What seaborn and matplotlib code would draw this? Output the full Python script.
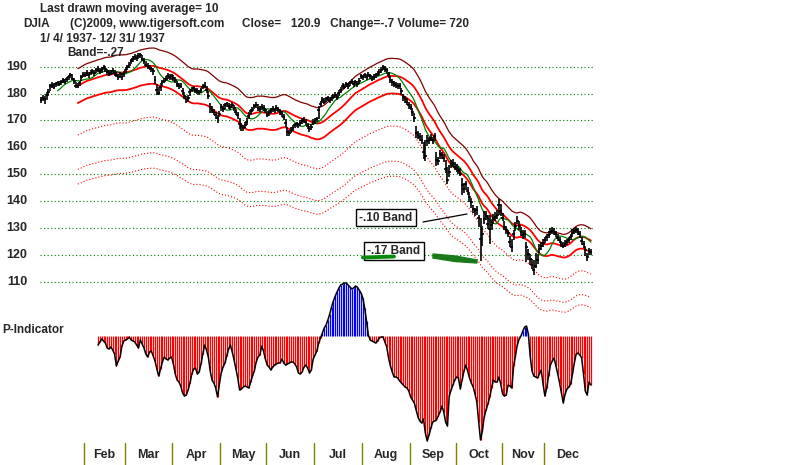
import numpy as np
import pandas as pd
import seaborn as sns
import matplotlib.pyplot as plt
from matplotlib.transforms import blended_transform_factory
from matplotlib.patches import Polygon

sns.set_style("white")
plt.rcParams['font.family'] = ['Liberation Sans', 'DejaVu Sans']

# --- data -------------------------------------------------------------
# 1937 trading days ran Monday-Saturday; these were exchange holidays
holidays = ['1937-02-12', '1937-02-22', '1937-03-26', '1937-05-31', '1937-07-05',
            '1937-09-06', '1937-10-12', '1937-11-02', '1937-11-11', '1937-11-25',
            '1937-12-25']

# DJIA daily close / high / low, Jan ... Dec
closes = [
    177.5, 178.5, 177.8, 179.5, 180.5, 182.8, 183.2, 182.6, 183.5, 184.0, 183.6, 184.3, 185.0, 184.2, 185.3, 186.2, 186.8, 185.6, 184.5, 182.8, 183.0, 183.8, 186.2, 187.0,
    187.0, 187.6, 186.8, 187.8, 188.2, 187.5, 188.6, 189.0, 188.3, 188.8, 189.6, 189.2, 188.0, 187.4, 187.8, 188.4, 187.6, 187.0, 186.2, 187.2, 186.0, 187.4,
    188.8, 190.0, 190.6, 192.0, 192.8, 193.6, 193.2, 194.0, 194.4, 193.0, 192.2, 190.8, 190.2, 189.6, 189.0, 188.4, 185.0, 181.5, 180.2, 182.6, 184.2, 184.8, 185.6, 186.6, 186.0, 186.4,
    185.8, 185.0, 183.4, 182.8, 183.0, 180.8, 179.0, 177.8, 178.2, 180.6, 181.4, 182.0, 181.2, 181.0, 180.4, 181.2, 182.6, 183.0, 181.5, 179.0, 175.0, 174.0, 173.2, 172.0, 170.8, 172.5,
    175.0, 174.2, 175.6, 176.0, 175.2, 175.0, 175.8, 174.6, 173.2, 172.0, 168.8, 167.6, 167.2, 168.4, 169.6, 171.8, 173.4, 174.0, 175.2, 175.8, 174.8, 174.2, 175.0, 174.6, 173.8,
    172.2, 172.8, 173.6, 174.2, 173.8, 174.6, 174.0, 173.2, 172.4, 171.2, 169.0, 165.8, 165.2, 166.6, 167.2, 168.2, 168.6, 168.2, 169.0, 169.8, 170.2, 169.4, 168.0, 166.8, 167.6, 169.6,
    169.8, 170.4, 174.0, 176.2, 177.6, 177.0, 177.8, 178.2, 177.6, 178.4, 178.8, 179.4, 178.6, 180.2, 181.4, 183.0, 182.6, 183.4, 182.8, 183.8, 184.4, 183.6, 184.2, 183.4, 184.6, 186.4,
    186.0, 186.8, 186.2, 187.0, 186.4, 185.6, 186.2, 186.8, 187.4, 188.0, 188.8, 190.0, 189.2, 188.6, 187.0, 185.2, 184.2, 183.6, 183.2, 182.8, 183.0, 180.8, 178.6, 177.8, 177.0, 175.6,
    175.0, 173.2, 170.8, 165.2, 164.6, 163.8, 162.8, 158.4, 156.8, 162.4, 162.8, 163.6, 162.6, 164.2, 155.4, 154.8, 157.4, 157.0, 156.2, 152.0, 148.0, 150.8, 153.8, 154.2, 152.8,
    152.4, 151.6, 150.2, 146.0, 144.6, 146.2, 143.8, 141.4, 139.6, 137.0, 136.2, 136.6, 133.6, 126.0, 127.8, 133.2, 134.6, 131.6, 129.6, 131.2, 133.4, 134.2, 135.0, 138.4, 136.2,
    133.8, 130.4, 129.2, 128.0, 124.8, 122.8, 127.6, 130.6, 132.4, 130.8, 128.6, 127.4, 127.8, 123.0, 120.2, 118.6, 116.2, 114.4, 116.0, 118.2, 122.0, 123.2, 124.4,
    125.6, 126.6, 127.4, 128.4, 129.0, 128.6, 127.8, 126.4, 125.6, 124.0, 123.4, 124.2, 124.8, 125.6, 126.6, 128.2, 128.8, 129.2, 128.6, 127.6, 125.2, 124.0, 121.8, 119.2, 121.6, 120.9,
]
highs = [
    178.6, 179.4, 179.2, 180.4, 181.6, 183.6, 184.2, 183.8, 184.4, 184.8, 184.6, 185.2, 185.8, 185.4, 186.0, 187.0, 187.8, 187.2, 185.8, 184.4, 184.0, 184.6, 186.8, 188.0,
    188.0, 188.6, 188.0, 188.8, 189.2, 188.6, 189.6, 190.2, 189.4, 189.8, 190.6, 190.4, 189.2, 188.6, 188.8, 189.4, 188.6, 188.2, 187.4, 188.2, 187.2, 188.4,
    189.8, 190.8, 191.6, 193.0, 193.8, 194.6, 194.4, 195.0, 195.2, 194.4, 193.4, 192.0, 191.2, 190.6, 190.0, 189.6, 186.4, 183.4, 182.4, 183.8, 185.2, 185.8, 186.6, 187.6, 187.2, 187.4,
    186.8, 186.0, 184.6, 183.8, 184.0, 182.0, 180.6, 179.0, 179.4, 181.6, 182.4, 183.0, 182.2, 182.0, 181.4, 182.2, 183.6, 184.2, 183.0, 181.0, 176.4, 175.2, 174.4, 173.2, 172.2, 173.6,
    176.2, 175.4, 176.6, 177.0, 176.4, 176.0, 176.8, 175.8, 174.4, 173.2, 171.0, 169.0, 168.4, 169.4, 170.8, 173.0, 174.4, 175.0, 176.2, 176.8, 176.0, 175.2, 176.0, 175.6, 174.8,
    173.4, 173.8, 174.6, 175.2, 174.8, 175.6, 175.0, 174.2, 173.4, 172.4, 170.4, 167.4, 166.4, 167.6, 168.2, 169.2, 169.6, 169.2, 170.0, 170.8, 171.2, 170.4, 169.2, 168.0, 168.6, 170.6,
    170.8, 171.4, 175.4, 177.2, 178.6, 178.2, 178.8, 179.2, 178.6, 179.4, 179.8, 180.4, 179.8, 181.2, 182.6, 184.0, 183.6, 184.4, 184.0, 184.8, 185.4, 184.8, 185.2, 184.6, 185.8, 187.4,
    187.0, 187.8, 187.2, 188.0, 187.4, 186.6, 187.2, 187.8, 188.4, 189.0, 189.8, 190.6, 190.4, 189.6, 188.2, 186.4, 185.4, 184.8, 184.2, 184.0, 184.0, 182.2, 179.8, 179.0, 178.2, 176.8,
    176.2, 174.6, 172.6, 168.0, 166.2, 165.2, 164.4, 162.0, 162.6, 164.4, 164.0, 164.8, 164.0, 165.4, 158.4, 156.4, 159.0, 158.4, 157.4, 155.4, 152.6, 153.6, 155.2, 155.6, 154.4,
    153.8, 153.0, 152.4, 148.6, 146.8, 147.6, 145.4, 143.2, 141.2, 138.6, 137.6, 138.0, 135.0, 133.6, 130.6, 136.2, 136.4, 134.8, 135.0, 133.2, 135.2, 135.8, 136.6, 140.6, 139.0,
    135.6, 132.4, 130.8, 129.4, 127.0, 126.0, 129.4, 132.2, 134.6, 132.4, 130.2, 129.2, 129.4, 124.8, 122.2, 120.4, 118.6, 118.0, 120.6, 120.2, 124.0, 124.8, 125.8,
    126.8, 127.8, 128.8, 129.8, 130.4, 129.8, 129.0, 127.8, 126.8, 125.2, 124.6, 125.4, 126.0, 126.8, 127.8, 129.6, 130.0, 130.2, 129.8, 128.8, 126.6, 125.2, 123.2, 120.6, 122.6, 122.0,
]
lows = [
    176.4, 177.2, 176.2, 177.6, 179.2, 181.0, 182.2, 181.8, 182.4, 183.0, 182.8, 183.2, 184.0, 183.4, 184.2, 185.0, 185.8, 185.0, 183.6, 182.0, 182.0, 182.8, 184.6, 186.0,
    186.0, 186.6, 185.8, 186.8, 187.2, 186.6, 187.6, 188.0, 187.4, 187.8, 188.6, 188.2, 187.0, 186.4, 186.8, 187.4, 186.6, 186.0, 185.2, 186.2, 185.0, 186.2,
    187.6, 188.8, 189.6, 191.0, 191.8, 192.4, 192.2, 193.0, 193.2, 192.0, 191.0, 189.8, 189.2, 188.6, 188.0, 187.0, 183.6, 179.6, 179.4, 181.0, 183.0, 183.8, 184.6, 185.4, 185.0, 185.2,
    184.8, 183.8, 182.4, 181.8, 182.0, 179.4, 177.8, 176.6, 177.0, 179.2, 180.4, 181.0, 180.2, 180.0, 179.4, 180.2, 181.6, 182.0, 180.2, 177.8, 172.8, 172.8, 172.0, 170.4, 169.2, 171.2,
    173.6, 173.2, 174.4, 175.0, 174.2, 174.0, 174.8, 173.4, 172.0, 170.4, 166.8, 166.2, 166.0, 167.2, 168.4, 170.4, 172.2, 173.0, 174.2, 174.8, 173.6, 173.0, 174.0, 173.4, 172.6,
    171.2, 171.8, 172.6, 173.2, 172.8, 173.6, 173.0, 172.2, 171.2, 170.0, 167.6, 164.2, 164.2, 165.4, 166.2, 167.2, 167.6, 167.2, 168.0, 168.8, 169.2, 168.2, 166.8, 165.8, 166.6, 168.4,
    168.8, 169.4, 170.6, 175.0, 176.4, 176.0, 176.8, 177.2, 176.6, 177.4, 177.8, 178.4, 177.6, 179.0, 180.2, 181.8, 181.6, 182.4, 181.8, 182.8, 183.4, 182.6, 183.2, 182.4, 183.6, 185.4,
    185.0, 185.8, 185.2, 186.0, 185.4, 184.6, 185.2, 185.8, 186.4, 187.0, 187.8, 188.8, 188.2, 187.4, 185.8, 184.0, 183.0, 182.4, 182.0, 181.6, 181.8, 179.4, 177.4, 176.6, 175.6, 174.2,
    173.8, 171.8, 169.4, 163.6, 163.0, 162.4, 161.2, 155.6, 155.0, 160.6, 161.4, 162.2, 161.2, 162.4, 153.2, 153.4, 155.6, 155.6, 154.6, 150.4, 146.4, 149.0, 152.2, 152.8, 151.4,
    151.0, 150.2, 149.4, 142.4, 143.0, 144.2, 142.2, 139.6, 137.6, 135.4, 134.6, 134.8, 130.4, 117.6, 123.4, 131.4, 132.8, 129.6, 124.2, 129.4, 131.6, 132.6, 133.4, 135.0, 134.6,
    132.4, 129.2, 127.8, 126.6, 122.8, 121.0, 125.6, 129.0, 131.4, 129.4, 127.0, 126.0, 126.2, 117.2, 118.2, 116.4, 114.6, 112.6, 115.0, 116.6, 120.8, 121.8, 123.0,
    124.4, 125.2, 126.2, 127.2, 127.8, 127.4, 126.6, 125.2, 124.4, 122.8, 122.4, 123.0, 123.6, 124.4, 125.4, 126.8, 127.6, 128.0, 127.4, 126.2, 123.6, 122.6, 119.6, 117.6, 120.0, 119.8,
]

# P-Indicator, one value per trading day from day 31 (mid-Feb) to the end
p_start = 31
p_indicator = [
    -9, -6, -3, -5, -7, -12, -13, -11, -14, -18,
    -30, -25, -21, -10, -5, -4, -3, -1, -4, -5,
    -6, -9, -12, -4, -8, -12, -18, -21, -16, -15,
    -20, -25, -33, -40, -33, -26, -21, -23, -24, -22,
    -21, -28, -38, -44, -46, -50, -57, -60, -59, -54,
    -47, -38, -33, -32, -38, -36, -28, -18, -9, -14,
    -21, -35, -44, -47, -52, -61, -48, -37, -31, -27,
    -20, -13, -9, -16, -24, -33, -42, -54, -53, -51,
    -50, -51, -52, -46, -40, -35, -26, -21, -19, -10,
    -15, -23, -29, -31, -34, -31, -29, -28, -27, -27,
    -23, -27, -29, -28, -27, -26, -26, -28, -31, -37,
    -38, -36, -31, -29, -32, -37, -34, -23, -19, -15,
    -7, -2, 3, 8, 11, 16, 22, 29, 35, 40,
    44, 48, 51, 52, 53, 53, 51, 49, 47, 48,
    50, 49, 46, 43, 38, 28, 15, 1, -4, -5,
    -6, -7, -5, -2, -1, -1, -6, -11, -22, -30,
    -36, -41, -41, -42, -45, -47, -49, -51, -52, -55,
    -61, -64, -67, -74, -81, -85, -87, -83, -97, -105,
    -99, -92, -86, -85, -84, -80, -76, -70, -76, -86,
    -90, -60, -54, -49, -44, -41, -42, -53, -44, -35,
    -29, -35, -42, -47, -51, -58, -66, -86, -104, -95,
    -81, -74, -68, -61, -52, -44, -46, -46, -41, -48,
    -58, -60, -59, -49, -50, -52, -30, -20, -9, -3,
    0, 5, 9, 10, 2, -20, -35, -40, -41, -42,
    -38, -34, -48, -60, -52, -40, -29, -25, -22, -30,
    -38, -47, -57, -67, -58, -53, -51, -48, -38, -27,
    -18, -17, -19, -22, -38, -55, -59, -46, -49,
]

# moving-average bands (multiples of the 21-day average)
band_mult = [1.035, 1.0, 0.965, 0.90, 0.83, 0.80]
band_color = ['#800000', '#ff0000', '#ff0000', '#ff0000', '#ff0000', '#ff0000']
grid_levels = [110, 120, 130, 140, 150, 160, 170, 180, 190]

# --- build the frame ----------------------------------------------------
days = pd.date_range('1937-01-04', '1937-12-31', freq='D')
days = days[(days.weekday != 6) & (~days.isin(pd.to_datetime(holidays)))]
df = pd.DataFrame({'date': days, 'close': closes, 'high': highs, 'low': lows})
df['day'] = np.arange(len(df))
df['ma10'] = df['close'].rolling(10).mean()
df['ma21'] = df['close'].rolling(21).mean()

pdf = pd.DataFrame({'day': np.arange(p_start, p_start + len(p_indicator)), 'p': p_indicator})

# --- figure: one canvas, price and indicator share the x scale -----------
W, H = 800, 465
fig = plt.figure(figsize=(8, 4.65), dpi=100)
ax = fig.add_axes([0, 0, 1, 1])
px_day = 1.839
ax.set_xlim(-41 / px_day, (W - 41) / px_day)
ax.set_ylim(190 - (H - 66.7) / 2.6875, 190 + 66.7 / 2.6875)
ax.set_axis_off()

ax2 = ax.twinx()
ax2.set_ylim(-(H - 336), 336)
ax2.set_axis_off()


def fx(x):
    return x / W


def fy(y):
    return 1 - y / H


# gridlines + price labels
ax.hlines(grid_levels, -0.5, 300.2, color='#008000', lw=0.8, linestyles=(0, (1, 2.2)))
ylab = blended_transform_factory(ax.transAxes, ax.transData)
for lv in grid_levels:
    ax.text(fx(27), lv, str(lv), transform=ylab, ha='right', va='center',
            fontsize=9, fontweight='bold')

# bands and averages
for m, c in zip(band_mult, band_color):
    dotted = m < 0.95
    sns.lineplot(x=df['day'], y=df['ma21'] * m, ax=ax, color=c,
                 lw=0.8 if dotted else (0.9 if c == '#800000' else 1.3),
                 linestyle=(0, (1, 1.8)) if dotted else '-')
sns.lineplot(data=df, x='day', y='ma10', ax=ax, color='#008000', lw=0.9)

# price bars
ax.vlines(df['day'], df['low'], df['high'], color='black', lw=1.2, zorder=4)
ax.hlines(df['close'], df['day'] - 0.8, df['day'] + 0.8, color='black', lw=1.2, zorder=4)

# P-Indicator
neg = pdf[pdf['p'] < 0]
pos = pdf[pdf['p'] >= 0]
ax2.vlines(neg['day'], 0, neg['p'], color='#ff0000', lw=0.9)
ax2.vlines(pos['day'], 0, pos['p'], color='#0000ff', lw=0.9)
sns.lineplot(data=pdf, x='day', y='p', ax=ax2, color='black', lw=1.1)

# month separators and names
bounds = list(df.index[df['date'].dt.month.diff() != 0][1:] - 0.5)
names = [d.strftime('%b') for d in df['date'][df['date'].dt.month.diff() != 0][1:]]
edges = bounds + [len(df) - 0.5]
for b in bounds:
    ax.axvline(b, ymin=0, ymax=22 / H, color='#808000', lw=1.0)
xlab = blended_transform_factory(ax.transData, ax.transAxes)
for i, nm in enumerate(names):
    ax.text((edges[i] + edges[i + 1]) / 2, fy(455), nm, transform=xlab,
            ha='center', va='center', fontsize=9, fontweight='bold')

# header text
hdr = dict(fontsize=8.5, fontweight='bold', va='center', ha='left')
fig.text(fx(40), fy(9), 'Last drawn moving average= 10', **hdr)
fig.text(fx(23), fy(24), 'DJIA', **hdr)
fig.text(fx(70), fy(24), '(C)2009, www.tigersoft.com', **hdr)
fig.text(fx(242), fy(24), 'Close=   120.9   Change=-.7 Volume= 720', **hdr)
fig.text(fx(40), fy(39), '1/ 4/ 1937- 12/ 31/ 1937', **hdr)
fig.text(fx(67), fy(53), 'Band=-.27', **hdr)
fig.text(fx(2), fy(330), 'P-Indicator', **hdr)

# band call-outs
box = dict(boxstyle='square,pad=0.25', fc='white', ec='black', lw=1)
fig.text(fx(386), fy(217.5), '-.10 Band', ha='center', va='center', fontsize=8.5,
         fontweight='bold', bbox=box, zorder=10)
fig.text(fx(394), fy(251), '-.17 Band', ha='center', va='center', fontsize=8.5,
         fontweight='bold', bbox=box, zorder=10)
fig.add_artist(plt.Line2D([fx(423), fx(467)], [fy(222), fy(214)], color='black',
                          lw=0.9, transform=fig.transFigure))
fig.add_artist(plt.Line2D([fx(363), fx(394)], [fy(257.5), fy(256.5)], color='#0a8a0a',
                          lw=2.8, transform=fig.transFigure, zorder=11))
fig.add_artist(Polygon([(fx(433), fy(254)), (fx(455), fy(256)), (fx(477), fy(260)),
                        (fx(477), fy(263)), (fx(455), fy(261.5)), (fx(433), fy(258))],
                       closed=True, color='#1a7a1a', transform=fig.transFigure))

fig.savefig('out.png', dpi=100, facecolor='white')
